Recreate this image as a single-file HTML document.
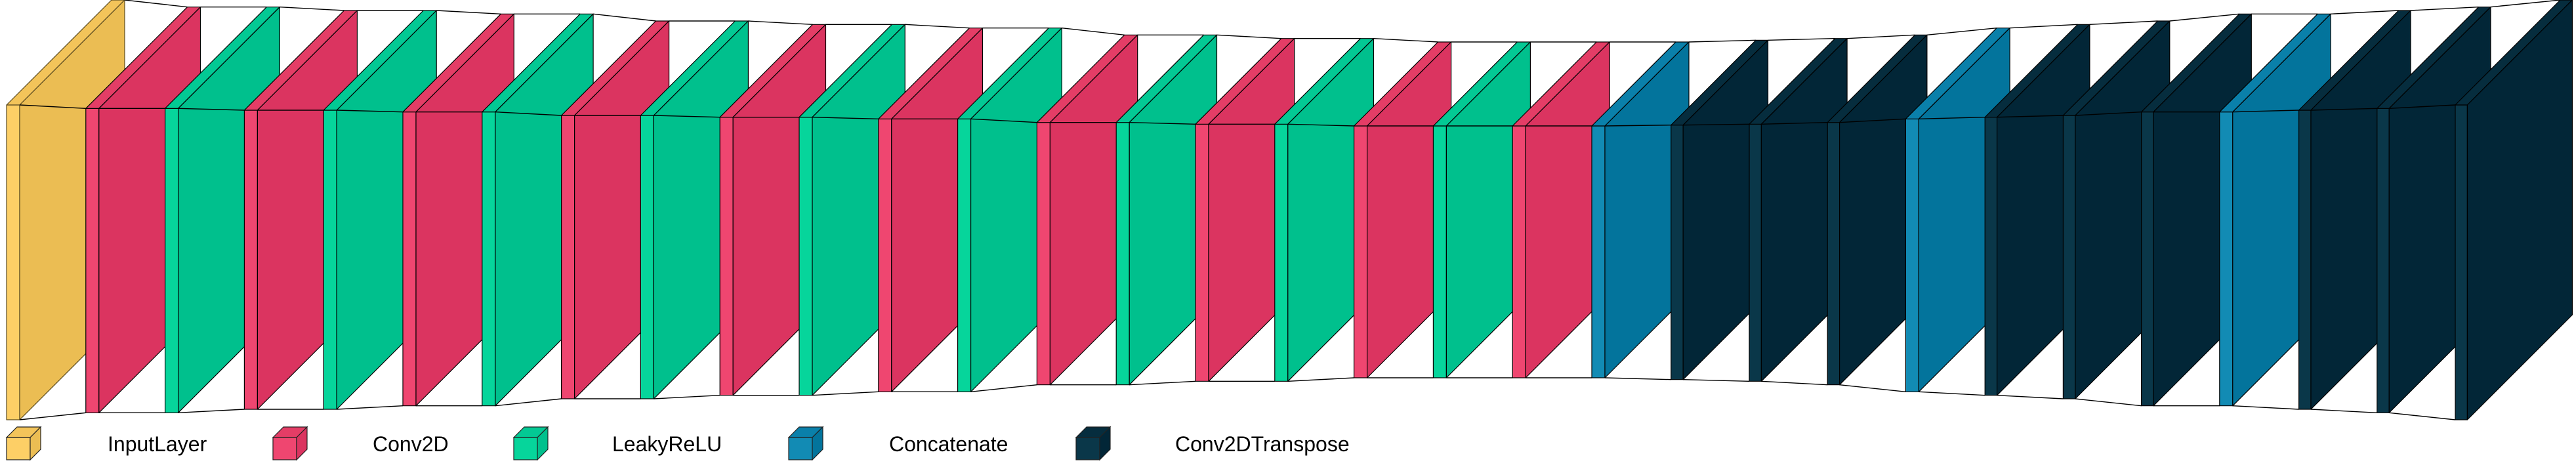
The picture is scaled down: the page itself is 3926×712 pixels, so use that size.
<!DOCTYPE html>
<html><head><meta charset="utf-8"><style>
html,body{margin:0;padding:0;background:#fff;}
svg{display:block;}
text{font-family:"Liberation Sans",Arial,sans-serif;}
</style></head><body>
<svg id="chart" width="3926" height="712" viewBox="0 0 3926 712" xmlns="http://www.w3.org/2000/svg">
<g id="layers"></g>
<g id="legend"></g>
</svg>
<script>
// layer type per position
const layerTypes = ["InputLayer",
 "Conv2D","LeakyReLU","Conv2D","LeakyReLU","Conv2D","LeakyReLU","Conv2D","LeakyReLU","Conv2D","LeakyReLU",
 "Conv2D","LeakyReLU","Conv2D","LeakyReLU","Conv2D","LeakyReLU","Conv2D","LeakyReLU","Conv2D",
 "Concatenate","Conv2DTranspose","Conv2DTranspose","Conv2DTranspose",
 "Concatenate","Conv2DTranspose","Conv2DTranspose","Conv2DTranspose",
 "Concatenate","Conv2DTranspose","Conv2DTranspose","Conv2DTranspose"];
// rendered spatial size (front-face height) per layer
const layerSizes = [480,
 464,464,456,456,448,448,432,432,424,424,
 416,416,400,400,392,392,384,384,384,
 384,388,392,400,
 416,424,432,448,
 448,456,464,480];
const legendNames = ["InputLayer","Conv2D","LeakyReLU","Concatenate","Conv2DTranspose"];

const palette = {
 "InputLayer":     {front:"#fdcf66", top:"#f3c45a", side:"#ebbd53", stroke:"#5a4a20"},
 "Conv2D":         {front:"#ef4670", top:"#e43d66", side:"#db3460", stroke:"#000"},
 "LeakyReLU":      {front:"#06d59b", top:"#03c994", side:"#00c08d", stroke:"#000"},
 "Concatenate":    {front:"#128bb4", top:"#0a80aa", side:"#03749c", stroke:"#000"},
 "Conv2DTranspose":{front:"#0a3749", top:"#062d3e", side:"#022637", stroke:"#000"}
};
const frontW = {"InputLayer":20,"Conv2D":20,"LeakyReLU":20,"Concatenate":20,"Conv2DTranspose":18.4};
const SPACING = 100.8, X0 = 10, CY = 320;

const NS = "http://www.w3.org/2000/svg";
function mk(tag, attrs){const e=document.createElementNS(NS,tag);for(const k in attrs)e.setAttribute(k,attrs[k]);return e;}
function pts(a){return a.map(p=>p[0].toFixed(1)+","+p[1].toFixed(1)).join(" ");}

// geometry from size
function boxGeom(x, type, h){
  const d = h/3, w = frontW[type];
  const top = CY - h/3, bot = top + h;
  return {x1:x, x2:x+w, top, bot, d};
}

const gL = document.getElementById("layers");
let x = X0, prev = null;
layerTypes.forEach((t,i)=>{
  const b = boxGeom(x, t, layerSizes[i]);
  const c = palette[t];
  if(prev){
    const lines = [
      [prev.x2, prev.top, b.x1, b.top],
      [prev.x2, prev.bot, b.x1, b.bot],
      [prev.x2+prev.d, prev.top-prev.d, b.x1+b.d, b.top-b.d],
      [prev.x2+prev.d, prev.bot-prev.d, b.x1+b.d, b.bot-b.d]
    ];
    lines.forEach(l=>{
      const ln = mk("line",{x1:l[0],y1:l[1],x2:l[2],y2:l[3],stroke:"#000","stroke-width":1.4});
      
      
      gL.appendChild(ln);
    });
  }
  const g = mk("g",{});
  
  
  const front = mk("polygon",{points:pts([[b.x1,b.top],[b.x2,b.top],[b.x2,b.bot],[b.x1,b.bot]]),fill:c.front,stroke:c.stroke,"stroke-width":1.2,"stroke-linejoin":"round"});
  const topF = mk("polygon",{points:pts([[b.x1,b.top],[b.x1+b.d,b.top-b.d],[b.x2+b.d,b.top-b.d],[b.x2,b.top]]),fill:c.top,stroke:c.stroke,"stroke-width":1.2,"stroke-linejoin":"round"});
  const side = mk("polygon",{points:pts([[b.x2,b.top],[b.x2+b.d,b.top-b.d],[b.x2+b.d,b.bot-b.d],[b.x2,b.bot]]),fill:c.side,stroke:c.stroke,"stroke-width":1.2,"stroke-linejoin":"round"});
  g.appendChild(front); g.appendChild(topF); g.appendChild(side);
  gL.appendChild(g);
  prev = b;
  x += frontW[t] + SPACING;
});

// legend
const legendCubeX = [10,416,783,1202,1640];
const legendTextX = [164,568,933,1355,1791];
const gLeg = document.getElementById("legend");
legendNames.forEach((n,i)=>{
  const c = palette[n];
  const g = mk("g",{});
  
  
  const x1 = legendCubeX[i], x2 = x1+36, t = 667, bt = 701, d = 16;
  g.appendChild(mk("polygon",{points:pts([[x1,t],[x2,t],[x2,bt],[x1,bt]]),fill:c.front,stroke:"#222","stroke-width":1.2}));
  g.appendChild(mk("polygon",{points:pts([[x1,t],[x1+d,t-d],[x2+d,t-d],[x2,t]]),fill:c.top,stroke:"#222","stroke-width":1.2}));
  g.appendChild(mk("polygon",{points:pts([[x2,t],[x2+d,t-d],[x2+d,bt-d],[x2,bt]]),fill:c.side,stroke:"#222","stroke-width":1.2}));
  const tx = mk("text",{x:legendTextX[i],y:688,"font-size":32,fill:"#000"});
  tx.textContent = n;
  
  
  g.appendChild(tx);
  gLeg.appendChild(g);
});
</script>
</body></html>
